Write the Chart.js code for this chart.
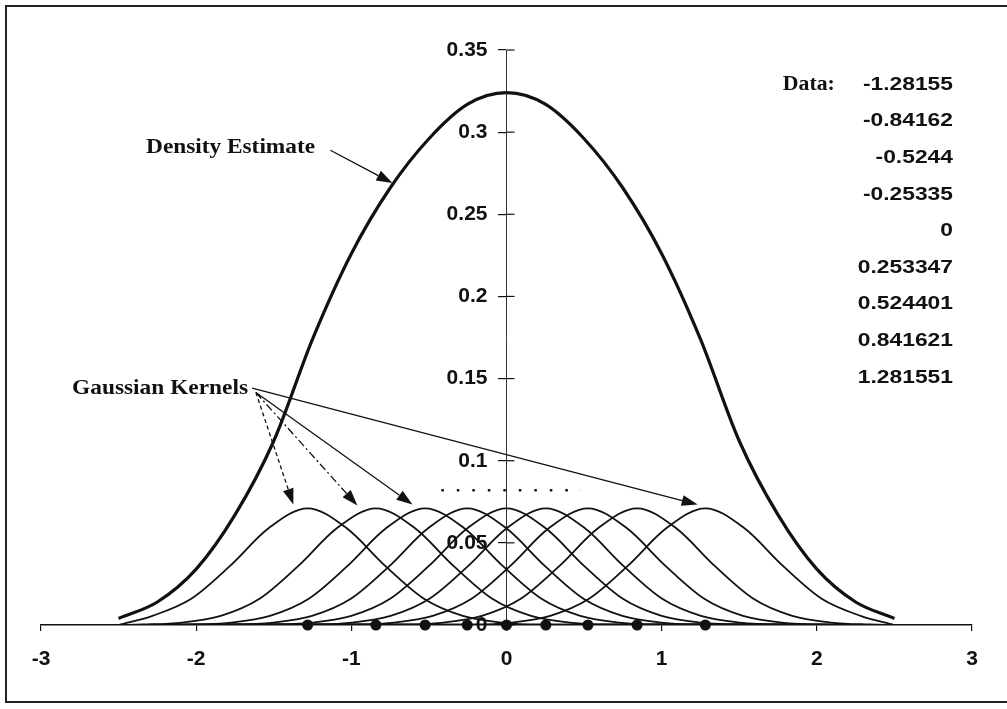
<!DOCTYPE html>
<html><head><meta charset="utf-8">
<script src="https://cdn.jsdelivr.net/npm/chart.js@4.4.1/dist/chart.umd.min.js"></script>
<style>html,body{margin:0;padding:0;background:#fff;}canvas{display:block}</style>
</head><body>
<canvas id="c" width="1007" height="709"></canvas>
<script>
// ---- data ----
const dataPoints = [-1.28155, -0.84162, -0.5244, -0.25335, 0, 0.253347, 0.524401, 0.841621, 1.281551];
const densityX = [-2.5,-2.25,-2,-1.75,-1.5,-1.25,-1,-0.75,-0.5,-0.25,0,0.25,0.5,0.75,1,1.25,1.5,1.75,2,2.25,2.5];
const densityY = [0.004,0.014,0.034,0.067,0.112,0.174,0.226,0.266,0.296,0.317,0.324,0.317,0.296,0.266,0.226,0.174,0.112,0.067,0.034,0.014,0.004];
const kernelOffsets = [-1.5,-1.25,-1,-0.75,-0.5,-0.25,0,0.25,0.5,0.75,1,1.25,1.5];
const kernelShape = [0.0003,0.0015,0.0056,0.016,0.036,0.059,0.071,0.059,0.036,0.016,0.0056,0.0015,0.0003];
const curveRange = [-2.5, 2.5];
const refLineX = [-0.42, 0.48];
const refLineY = [0.082, 0.082];
const xTicks = [-3,-2,-1,0,1,2,3];
const yTicks = [0,0.05,0.1,0.15,0.2,0.25,0.3,0.35];
const dataTitle = 'Data:';
const densityLabel = 'Density Estimate';
const kernelLabel = 'Gaussian Kernels';

const INK = '#111';

// ---- datasets built from the arrays ----
const kernelSets = dataPoints.map(c => {
  const pts = [{x: curveRange[0], y: 0}];
  kernelOffsets.forEach((o, i) => {
    const x = c + o;
    if (x > curveRange[0] && x < curveRange[1]) pts.push({x, y: kernelShape[i]});
  });
  pts.push({x: curveRange[1], y: 0});
  return {data: pts, borderColor: INK, borderWidth: 1.8, pointRadius: 0, cubicInterpolationMode: 'monotone', fill: false};
});

const densitySet = {
  data: densityX.map((x, i) => ({x, y: densityY[i]})),
  borderColor: INK, borderWidth: 3.2, pointRadius: 0, cubicInterpolationMode: 'monotone', fill: false
};

const refSet = {
  data: refLineX.map((x, i) => ({x, y: refLineY[i]})),
  borderColor: INK, borderWidth: 2.5, borderDash: [2.5, 13], pointRadius: 0, fill: false
};

const dotSet = {
  data: dataPoints.map(x => ({x, y: 0})),
  showLine: false, pointRadius: 5.5, pointBackgroundColor: INK, pointBorderWidth: 0, clip: false
};

// ---- annotations (in data units) ----
const annoArrows = [
  {from: [-1.135, 0.289], to: [-0.735, 0.269], dash: []},
  {from: [-1.615, 0.1415], to: [-1.374, 0.0733], dash: [4, 3]},
  {from: [-1.615, 0.1415], to: [-0.961, 0.0727], dash: [8, 3, 2, 3]},
  {from: [-1.615, 0.1415], to: [-0.606, 0.0733], dash: []},
  {from: [-1.639, 0.1442], to: [1.232, 0.0733], dash: []}
];

function fitText(ctx, text, x, y, font, w, align) {
  ctx.save();
  ctx.font = font;
  const m = ctx.measureText(text).width;
  const s = w / m;
  ctx.translate(x, y);
  ctx.scale(s, 1);
  ctx.textAlign = align;
  ctx.textBaseline = 'middle';
  ctx.fillStyle = INK;
  ctx.fillText(text, 0, 0);
  ctx.restore();
}

const annoPlugin = {
  id: 'anno',
  afterDraw(chart) {
    const ctx = chart.ctx, xs = chart.scales.x, ys = chart.scales.y;
    const P = (x, y) => [xs.getPixelForValue(x), ys.getPixelForValue(y)];
    ctx.save();
    // right half of the crossing y ticks
    const ax = xs.getPixelForValue(0);
    ctx.strokeStyle = INK; ctx.lineWidth = 1.2;
    yTicks.forEach(v => {
      const py = ys.getPixelForValue(v);
      ctx.beginPath(); ctx.moveTo(ax, py); ctx.lineTo(ax + 8, py); ctx.stroke();
    });
    // arrows
    annoArrows.forEach(a => {
      const [x1, y1] = P(a.from[0], a.from[1]);
      const [x2, y2] = P(a.to[0], a.to[1]);
      const ang = Math.atan2(y2 - y1, x2 - x1);
      const hl = 16, hw = 5.5;
      const bx = x2 - hl * Math.cos(ang), by = y2 - hl * Math.sin(ang);
      ctx.setLineDash(a.dash);
      ctx.lineWidth = 1.3; ctx.strokeStyle = INK;
      ctx.beginPath(); ctx.moveTo(x1, y1); ctx.lineTo(bx, by); ctx.stroke();
      ctx.setLineDash([]);
      ctx.fillStyle = INK;
      ctx.beginPath();
      ctx.moveTo(x2, y2);
      ctx.lineTo(bx + hw * Math.sin(ang), by - hw * Math.cos(ang));
      ctx.lineTo(bx - hw * Math.sin(ang), by + hw * Math.cos(ang));
      ctx.closePath(); ctx.fill();
    });
    // labels
    let [lx, ly] = P(-2.323, 0.2909);
    fitText(ctx, densityLabel, lx, ly, 'bold 21px "Liberation Serif"', 169, 'left');
    [lx, ly] = P(-2.80, 0.1442);
    fitText(ctx, kernelLabel, lx, ly, 'bold 21px "Liberation Serif"', 176, 'left');
    // data list
    [lx, ly] = P(1.781, 0.329);
    fitText(ctx, dataTitle, lx, ly, 'bold 20px "Liberation Serif"', 52, 'left');
    ctx.font = 'bold 19px "Liberation Sans"';
    const sx = 90 / ctx.measureText(String(dataPoints[0])).width;
    const rx = xs.getPixelForValue(2.877);
    const y0 = ys.getPixelForValue(0.329);
    const dy = 36.6;
    dataPoints.forEach((v, i) => {
      ctx.save();
      ctx.translate(rx, y0 + i * dy);
      ctx.scale(sx, 1);
      ctx.textAlign = 'right'; ctx.textBaseline = 'middle'; ctx.fillStyle = INK;
      ctx.fillText(String(v), 0, 0);
      ctx.restore();
    });
    // frame
    ctx.strokeStyle = '#222'; ctx.lineWidth = 2;
    ctx.beginPath();
    ctx.moveTo(1007, 6); ctx.lineTo(6, 6); ctx.lineTo(6, 702); ctx.lineTo(1007, 702);
    ctx.stroke();
    ctx.restore();
  }
};

const tickFont = {family: '"Liberation Sans"', size: 21, weight: 'bold'};

new Chart(document.getElementById('c'), {
  type: 'line',
  data: {datasets: [...kernelSets, densitySet, refSet, dotSet]},
  options: {
    responsive: false,
    animation: false,
    events: [],
    layout: {padding: {left: 41, right: 35, top: 50, bottom: 34}},
    plugins: {legend: {display: false}, tooltip: {enabled: false}},
    scales: {
      x: {
        type: 'linear', min: -3, max: 3,
        afterBuildTicks: s => { s.ticks = xTicks.map(v => ({value: v})); },
        afterFit: s => { s.height = 50; },
        grid: {display: true, drawOnChartArea: false, drawTicks: true, tickLength: 6, color: INK, lineWidth: 1.2},
        border: {display: true, color: INK, width: 1.5},
        ticks: {color: INK, padding: 16, font: tickFont, maxRotation: 0}
      },
      y: {
        type: 'linear', min: 0, max: 0.35,
        position: {x: 0},
        afterBuildTicks: s => { s.ticks = yTicks.map(v => ({value: v})); },
        grid: {display: true, drawOnChartArea: false, drawTicks: true, tickLength: 8, color: INK, lineWidth: 1.2},
        border: {display: true, color: '#333', width: 1, dash: [6, 2, 1, 2]},
        ticks: {display: false}
      },
      yLabels: {
        type: 'linear', min: 0, max: 0.35,
        position: {x: -0.1225},
        afterBuildTicks: s => { s.ticks = yTicks.map(v => ({value: v})); },
        grid: {display: false},
        border: {display: false},
        ticks: {color: INK, padding: 0, font: tickFont, callback: v => String(+v.toFixed(2))}
      }
    }
  },
  plugins: [annoPlugin]
});
</script>
</body></html>
